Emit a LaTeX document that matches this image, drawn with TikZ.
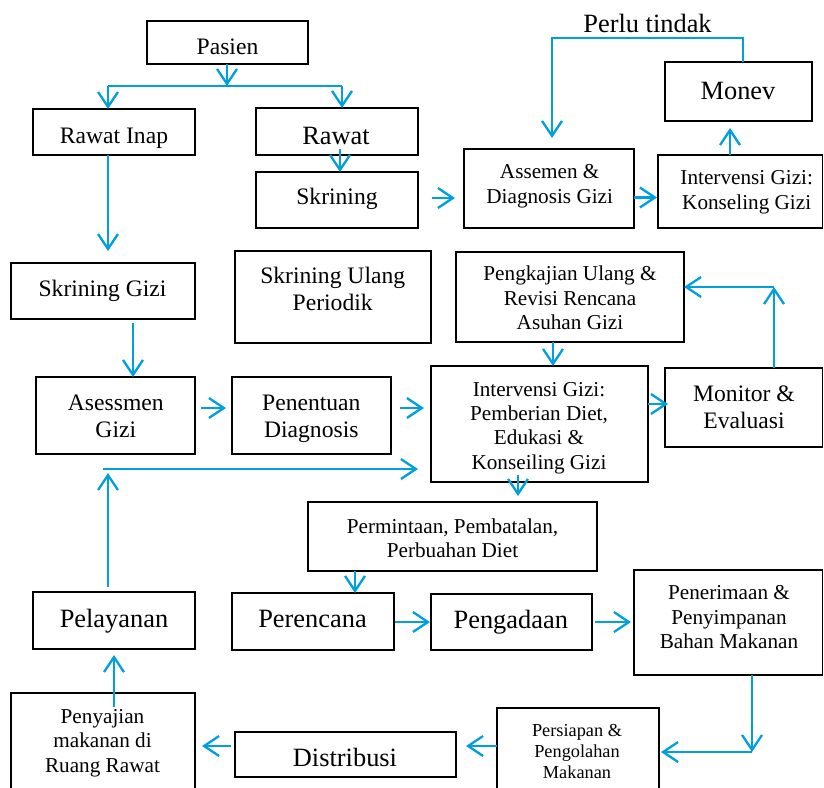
\documentclass[tikz,border=0pt]{standalone}
\usepackage{fontspec}
\setmainfont{Liberation Serif}
\usetikzlibrary{arrows.meta,fit}
\definecolor{arrowblue}{RGB}{0,160,222}
\tikzset{
  box/.style={draw=black, line width=1.5pt, inner sep=0pt, outer sep=0pt},
  conn/.style={draw=arrowblue, line width=2.3pt},
  arr/.style={conn, -{Straight Barb[length=15pt,width=20pt]}},
  txt/.style={inner sep=0pt, outer sep=0pt, align=center},
  fB/.style={font=\fontsize{26.4}{30}\selectfont},
  fM/.style={font=\fontsize{23.6}{27.2}\selectfont},
  fS/.style={font=\fontsize{21.2}{24.4}\selectfont},
  fT/.style={font=\fontsize{18.3}{20.8}\selectfont},
}
\begin{document}
\begin{tikzpicture}[x=1pt,y=-1pt]
\useasboundingbox (0,0) rectangle (824,787);
\clip (0,0) rectangle (824,787);
% boxes
\node[box, fit={(147,21)(308,64)}] (pasien) {};
\node[box, fit={(33,109)(195,155)}] (inap) {};
\node[box, fit={(256,108)(418,155)}] (rawat) {};
\node[box, fit={(256,172)(418,228)}] (skrin) {};
\node[box, fit={(464,149)(634,228)}] (assemen) {};
\node[box, fit={(658,155)(822.5,228)}] (konsel) {};
\node[box, fit={(665,62)(812,121)}] (monev) {};
\node[box, fit={(11,263)(195,319)}] (skgizi) {};
\node[box, fit={(235,251)(431,343)}] (ulang) {};
\node[box, fit={(456,252)(684,342)}] (pengkaj) {};
\node[box, fit={(36,377)(195,454)}] (asess) {};
\node[box, fit={(232,377)(391,454)}] (penent) {};
\node[box, fit={(431,366)(648,482)}] (interv) {};
\node[box, fit={(665,368)(822.5,447)}] (monitor) {};
\node[box, fit={(308,502)(597,571)}] (perm) {};
\node[box, fit={(33,592)(195,649)}] (pelay) {};
\node[box, fit={(232,593)(394,650)}] (peren) {};
\node[box, fit={(431,594)(592,650)}] (pengad) {};
\node[box, fit={(634,570)(822.5,675)}] (peneri) {};
\node[box, fit={(497,708)(659,800)}] (persiap) {};
\node[box, fit={(235,732)(456,777)}] (distrib) {};
\node[box, fit={(11,693)(195,800)}] (penyaj) {};
% texts
\node[txt,fM,anchor=base] (pasien-t) at (227.5,54) {Pasien};
\node[txt,fM,anchor=base] (inap-t) at (114,143.3) {Rawat Inap};
\node[txt,fB,anchor=base] (rawat-t) at (336,144) {Rawat};
\node[txt,fM,anchor=base] (skrin-t) at (337,204) {Skrining};
\node[txt,fB,anchor=base] (perlu) at (647.5,32.3) {Perlu tindak};
\node[txt,fB,anchor=base] (monev-t) at (738,99) {Monev};
\node[txt,fS] (assemen-t) at (549.7,186.2) {Assemen \&\\Diagnosis Gizi};
\node[txt,fS] (konsel-t) at (746.7,192.2) {Intervensi Gizi:\\Konseling Gizi};
\node[txt,fM,anchor=base] (skgizi-t) at (102.5,296) {Skrining Gizi};
\node[txt,fM] (ulang-t) at (332.7,289.1) {Skrining Ulang\\Periodik};
\node[txt,fM] (asess-t) at (115.8,416.4) {Asessmen\\Gizi};
\node[txt,fM] (penent-t) at (311.3,419) {Penentuan\\Diagnosis};
\node[txt,fS] (pengkaj-t) at (570,297.9) {Pengkajian Ulang \&\\Revisi Rencana\\Asuhan Gizi};
\node[txt,fS] (interv-t) at (539,428) {Intervensi Gizi:\\Pemberian Diet,\\Edukasi \&\\Konseiling Gizi};
\node[txt,fM] (monitor-t) at (744,407) {Monitor \&\\Evaluasi};
\node[txt,fS] (perm-t) at (452.5,538.3) {Permintaan, Pembatalan,\\Perbuahan Diet};
\node[txt,fB,anchor=base] (pelay-t) at (114,627.7) {Pelayanan};
\node[txt,fB,anchor=base] (peren-t) at (312.5,627.7) {Perencana};
\node[txt,fB,anchor=base] (pengad-t) at (510.8,628.3) {Pengadaan};
\node[txt,fS] (peneri-t) at (729,617.4) {Penerimaan \&\\Penyimpanan\\Bahan Makanan};
\node[txt,fT] (persiap-t) at (577,751.3) {Persiapan \&\\Pengolahan\\Makanan};
\node[txt,fB,anchor=base] (distrib-t) at (345,766.7) {Distribusi};
\node[txt,fS] (penyaj-t) at (102.5,743) {Penyajian\\makanan di\\Ruang Rawat};
% connectors
\coordinate (split) at (227,86);
\coordinate (sl) at (108,86);
\coordinate (sr) at (342,86);
\draw[arr] (pasien.south -| split) -- (split);
\draw[conn] (sl) -- (sr);
\draw[arr] (sl) -- (sl |- inap.north);
\draw[arr] (sr) -- (sr |- rawat.north);
\draw[arr, shorten <=-6pt] (rawat.south -| 340,0) -- (skrin.north -| 340,0);
\draw[arr, shorten >=12pt] (inap.south -| 108,0) -- (skgizi.north -| 108,0);
\draw[arr, shorten <=4pt] (skgizi.south -| 133,0) -- (asess.north -| 133,0);
\draw[arr, shorten <=6pt, shorten >=6pt] (asess.east |- 0,408) -- (penent.west |- 0,408);
\draw[arr, shorten <=9pt, shorten >=7pt] (penent.east |- 0,408) -- (interv.west |- 0,408);
\coordinate (fb) at (103,469);
\draw[arr, shorten >=13pt] (fb) -- (interv.west |- fb);
\coordinate (fbup) at (108,473);
\draw[arr, shorten <=5pt] (pelay.north -| fbup) -- (fbup);
\draw[arr] (pengkaj.south -| 553,0) -- (interv.north -| 553,0);
\draw[arr, shorten >=-3pt] (interv.east |- 0,404) -- (monitor.west |- 0,404);
\coordinate (mc) at (774,287);
\draw[arr] (monitor.north -| mc) -- (mc);
\draw[arr] (mc) -- (pengkaj.east |- mc);
\draw[arr, shorten <=-7pt, shorten >=6pt] (interv.south -| 518,0) -- (perm.north -| 518,0);
\draw[arr] (perm.south -| 355,0) -- (peren.north -| 355,0);
\draw[arr, shorten <=1pt, shorten >=1pt] (peren.east |- 0,622) -- (pengad.west |- 0,622);
\draw[arr, shorten <=3pt, shorten >=3pt] (pengad.east |- 0,622) -- (peneri.west |- 0,622);
\coordinate (pc) at (752,752);
\draw[arr] (peneri.south -| pc) -- (pc);
\draw[arr, shorten >=2pt] (pc) -- (persiap.east |- pc);
\draw[arr, shorten >=10pt] (persiap.west |- 0,746) -- (distrib.east |- 0,746);
\draw[arr, shorten <=4pt, shorten >=7pt] (distrib.west |- 0,746) -- (penyaj.east |- 0,746);
\draw[arr, shorten <=-14pt, shorten >=6pt] (penyaj.north -| 114,0) -- (pelay.south -| 114,0);
\draw[arr, shorten <=14pt, shorten >=9pt] (skrin.east |- 0,198) -- (assemen.west |- 0,198);
\draw[arr, shorten >=1pt] (assemen.east |- 0,197.5) -- (konsel.west |- 0,197.5);
\draw[arr, shorten >=7pt] (konsel.north -| 730,0) -- (monev.south -| 730,0);
\coordinate (lr) at (743,38);
\coordinate (ll) at (552,38);
\draw[arr, shorten >=11pt] (monev.north -| lr) -- (lr) -- (ll) -- (assemen.north -| ll);
\end{tikzpicture}
\end{document}
